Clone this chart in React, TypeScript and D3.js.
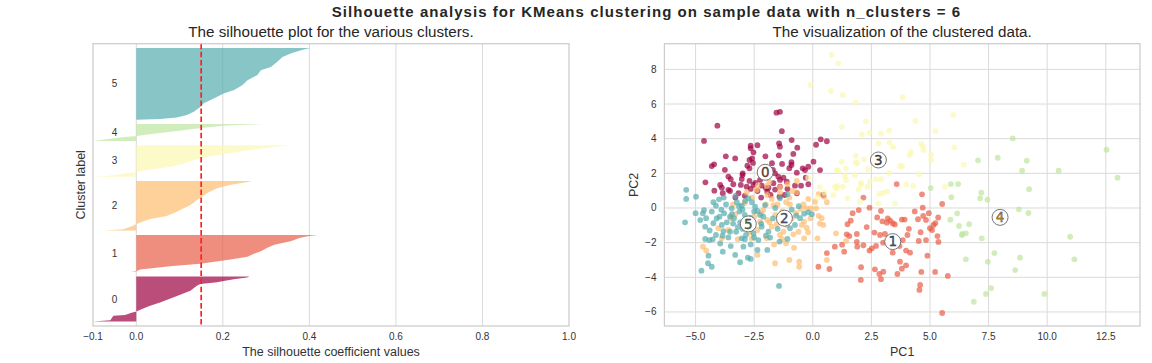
import React, { useEffect, useRef } from 'react';
import * as d3 from 'd3';

// silhouette plot data: [rank inside cluster, silhouette value]
const clusterIds = [0, 1, 2, 3, 4, 5];
const clusterSizes = [102, 84, 112, 71, 38, 162];
const silProfile0 = [[0, -0.1], [3, -0.06], [13, -0.053], [15, -0.026], [20, -0.011], [23, 0], [28, 0.012], [36, 0.032], [43, 0.055], [58, 0.094], [70, 0.125], [81, 0.14], [85, 0.148], [89, 0.187], [92, 0.202], [96, 0.225], [100, 0.256], [102, 0.262]];
const silProfile1 = [[0, -0.012], [2, 0], [6, 0.009], [13.5, 0.078], [19, 0.148], [28.5, 0.218], [34.5, 0.257], [40, 0.268], [47, 0.288], [55, 0.303], [62, 0.319], [70, 0.357], [77, 0.377], [81, 0.396], [84, 0.419]];
const silProfile2 = [[0, -0.075], [3, -0.03], [10, -0.01], [15, 0], [18.5, 0.009], [26, 0.032], [30, 0.055], [33, 0.07], [41, 0.09], [48, 0.105], [55, 0.12], [63, 0.133], [70, 0.14], [74, 0.148], [85, 0.164], [96, 0.187], [104, 0.218], [108, 0.248], [112, 0.268]];
const silProfile3 = [[0, -0.1], [2, -0.062], [7.5, -0.022], [10, 0], [15, 0.023], [22, 0.078], [30, 0.11], [37, 0.133], [45, 0.163], [52, 0.21], [60, 0.257], [67, 0.318], [71, 0.357]];
const silProfile4 = [[0, -0.1], [7.5, -0.038], [11, 0], [16, 0.04], [22, 0.09], [28, 0.14], [33, 0.19], [35, 0.21], [37, 0.27], [38, 0.29]];
const silProfile5 = [[0, 0], [1.5, 0.055], [5, 0.094], [10.5, 0.117], [18, 0.133], [29, 0.148], [37, 0.156], [48, 0.179], [59, 0.202], [67, 0.226], [78, 0.245], [89.5, 0.257], [101, 0.28], [112, 0.288], [119.5, 0.311], [131, 0.326], [142, 0.338], [150, 0.357], [157, 0.381], [162, 0.402]];
const silProfiles = [silProfile0, silProfile1, silProfile2, silProfile3, silProfile4, silProfile5];
const silAverage = 0.15;
const silTicks = [-0.1, 0, 0.2, 0.4, 0.6, 0.8, 1.0];

// clustered data in PCA space, one array per cluster: [PC1, PC2]
const pc0 = [[-4.07, 4.75], [-4.64, 3.87], [-1.32, 4.43], [-0.9, 3.92], [-1.44, 3.73], [-1.4, 3.54], [-0.66, 3.48], [0.34, 3.96], [0.6, 3.85], [0.14, 3.65], [-2.65, 3.59], [-2.65, 3.44], [-2.36, 3.62], [-2.53, 3.21], [-2.02, 2.98], [-3.71, 2.98], [-3.31, 2.86], [-2.59, 2.86], [-2.7, 2.77], [-4.21, 2.52], [-4.31, 2.42], [-2.79, 2.44], [-2.7, 2.29], [-1.45, 3.04], [-0.83, 3.12], [-0.91, 2.64], [-0.91, 2.48], [-1.31, 2.54], [-1.74, 2.58], [-1.61, 2.0], [0.03, 2.67], [-0.19, 2.38], [-0.43, 2.29], [-0.33, 2.19], [-0.68, 2.04], [0.31, 2.19], [-1.47, 1.81], [-2.99, 2.0], [-3.6, 1.81], [-3.5, 1.66], [-3.03, 1.67], [-4.58, 1.48], [-3.95, 1.33], [-3.88, 1.17], [-3.39, 1.37], [-3.07, 1.33], [-2.7, 1.56], [-2.53, 1.33], [-2.25, 1.62], [-1.4, 1.62], [-1.25, 1.75], [-1.11, 1.52], [-0.76, 1.29], [-0.5, 1.29], [-0.19, 1.37], [-2.18, 1.29], [-1.89, 1.17], [-1.4, 1.23], [-1.68, 1.43], [-3.84, 0.85], [-3.53, 0.98], [-3.17, 0.85], [-2.65, 1.1], [-2.36, 0.98], [-1.94, 0.94], [-1.61, 1.06], [-1.42, 0.65], [-1.08, 1.1], [-0.68, 0.85], [-2.82, 1.23], [0.45, 0.75], [-1.55, 5.5], [-1.4, 5.55], [-3.3, 0.6], [-2.9, 0.7], [-2.2, 0.6], [-1.8, 0.75], [-3.6, 1.05], [-2.45, 1.45], [-2.0, 1.15], [-1.2, 0.75], [-3.0, 1.9], [-2.2, 2.1], [-1.7, 2.2], [-1.0, 2.3], [-0.3, 1.75], [-4.2, 1.0], [-3.75, 2.2], [-2.55, 2.6]];
const pc1 = [[3.58, 1.38], [2.16, 0.6], [4.66, 0.79], [5.52, 0.23], [1.96, -0.12], [2.42, 0.02], [2.91, -0.17], [4.69, 0.02], [4.71, -0.46], [4.49, -0.65], [4.83, -0.69], [1.48, -0.94], [1.62, -0.73], [2.97, -0.77], [3.16, -0.85], [3.3, -0.73], [3.41, -0.88], [3.8, -0.67], [3.92, -0.67], [5.0, -1.17], [5.15, -0.98], [5.23, -0.88], [5.09, -1.27], [1.45, -1.52], [1.56, -1.62], [1.88, -1.5], [2.63, -1.42], [2.87, -1.56], [3.08, -1.5], [4.04, -1.56], [3.84, -1.85], [5.32, -1.62], [0.94, -2.23], [1.25, -2.12], [1.34, -2.52], [1.88, -1.96], [1.9, -2.23], [2.16, -2.15], [2.7, -2.19], [2.42, -2.46], [2.52, -2.33], [3.41, -2.58], [3.98, -2.46], [4.15, -2.58], [4.52, -1.9], [4.83, -1.85], [5.36, -1.96], [4.89, -2.75], [3.72, -3.1], [3.98, -3.31], [3.8, -3.5], [3.61, -3.81], [2.65, -3.54], [2.06, -3.42], [2.84, -3.81], [3.01, -3.68], [2.91, -4.11], [2.05, -4.15], [4.63, -3.69], [5.22, -3.69], [5.76, -3.92], [4.58, -4.44], [4.55, -4.73], [5.52, -6.06], [0.24, -3.39], [0.71, -3.52], [0.6, -2.61], [3.2, -0.6], [3.5, -0.95], [2.75, -0.55], [4.1, -1.2], [3.0, -2.0], [1.7, -0.3], [4.35, -0.2], [5.35, -0.55], [4.95, -0.3], [2.3, -1.1], [3.7, -2.2], [4.6, -1.4]];
const pc2 = [[-2.82, 0.9], [-2.39, 1.04], [-1.94, 0.75], [-1.75, 0.52], [-1.68, 0.17], [-2.11, -0.12], [-1.94, -0.69], [-1.85, -0.83], [-1.75, -1.08], [-1.54, -0.94], [-2.25, -0.79], [-2.36, -1.27], [-1.96, -1.75], [-1.4, -1.56], [-1.25, -1.37], [-0.83, -1.52], [-0.61, -1.37], [-0.47, -0.98], [-0.26, -1.14], [-0.37, -0.79], [-0.09, -0.59], [-0.51, -0.06], [-0.26, -0.02], [-0.09, -0.02], [0.14, -0.02], [-0.19, 0.52], [0.1, 0.36], [0.48, 0.65], [0.6, 0.33], [0.38, -0.59], [0.45, -0.98], [-0.68, 0.9], [-0.87, 0.98], [-1.4, 0.9], [-1.14, 0.33], [-0.97, 0.21], [-3.6, -1.27], [-3.5, -0.59], [-3.31, -0.36], [-4.03, -1.17], [-4.69, -2.23], [-4.55, -2.45], [-3.88, -1.75], [-2.6, -1.75], [-1.65, -2.1], [-1.14, -2.04], [-0.37, -1.75], [0.2, -1.75], [-1.61, -3.19], [-1.0, -3.0], [-0.58, -3.1], [-0.58, -3.39], [0.6, -3.0], [-2.36, -2.71], [-1.96, 1.27], [-1.08, 1.37], [-0.68, 1.56], [-1.85, 1.52], [0.25, -0.45], [0.3, -0.9], [0.99, -1.46], [1.42, -1.9], [-1.4, 1.2], [0.25, 0.8], [-2.35, 1.3], [-2.2, -0.3], [-1.6, -0.4], [-1.3, -0.2], [-0.9, -0.6], [-0.7, -0.3], [-2.5, -0.5], [-3.0, -0.9], [-2.7, -1.4], [-1.1, -1.0], [-0.4, 0.2], [-1.5, 0.2], [-3.2, -1.8], [-2.9, 0.3], [-1.0, 0.6], [-0.2, -1.4], [-2.0, 0.2], [-3.4, 0.2], [-2.6, 0.6], [-1.3, -1.8], [-0.8, -2.3]];
const pc3 = [[0.81, 8.83], [1.08, 8.35], [0.78, 6.75], [1.28, 6.52], [1.83, 6.08], [3.84, 6.39], [1.24, 4.67], [2.27, 5.0], [2.1, 4.25], [2.42, 4.35], [2.91, 4.29], [3.26, 4.46], [4.38, 5.02], [5.23, 4.44], [6.0, 5.37], [2.8, 3.73], [3.27, 3.79], [3.43, 3.52], [4.63, 3.71], [4.71, 3.54], [4.72, 3.33], [4.19, 3.23], [4.14, 3.06], [5.05, 3.06], [5.05, 2.77], [6.04, 3.5], [1.83, 3.02], [1.83, 2.64], [1.9, 2.58], [2.18, 2.81], [1.24, 2.67], [1.41, 2.29], [1.08, 2.15], [2.35, 2.25], [3.71, 2.41], [3.81, 2.41], [6.44, 2.5], [3.26, 2.02], [4.54, 1.94], [1.37, 1.85], [1.8, 1.89], [1.42, 1.62], [2.69, 1.66], [2.91, 1.66], [2.05, 1.43], [1.05, 1.27], [1.28, 1.23], [0.88, 0.75], [1.48, 0.56], [1.96, 1.08], [2.07, 1.38], [2.33, 1.23], [2.84, 0.81], [3.01, 0.88], [3.18, 0.94], [2.8, 0.27], [3.51, 0.27], [3.98, 1.35], [4.29, 1.27], [2.02, 0.36], [2.44, 1.52], [5.64, 1.23], [1.02, 1.13], [1.02, 2.19], [0.95, 1.23], [-0.1, 7.1], [-0.2, 1.75], [0.3, 1.2], [0.5, 0.9], [0.2, 0.6]];
const pc4 = [[8.53, 4.02], [12.53, 3.36], [7.05, 2.75], [7.89, 2.9], [9.13, 2.73], [8.93, 2.15], [10.49, 2.15], [13.0, 1.75], [9.23, 1.08], [7.19, 0.88], [7.14, 0.56], [7.45, 0.48], [8.79, -0.08], [9.2, -0.29], [6.67, -0.94], [6.53, -1.46], [6.36, -1.56], [7.21, -1.75], [10.98, -1.66], [6.53, -2.96], [7.75, -2.61], [8.84, -2.87], [7.47, -3.1], [11.16, -2.96], [8.64, -3.58], [7.61, -4.62], [7.39, -4.96], [6.87, -5.41], [9.88, -4.96], [5.03, 1.15], [5.89, 1.38], [6.2, 1.38], [5.91, 0.62], [6.16, -0.31], [5.87, -0.68], [6.24, -1.04], [6.38, -1.5]];
const pc5 = [[-5.4, 0.52], [-4.98, 0.65], [-5.45, -0.83], [-4.64, -0.12], [-4.69, -0.31], [-4.24, 0.33], [-4.13, 0.13], [-4.31, -0.21], [-4.55, -0.59], [-4.59, -1.08], [-4.24, -0.88], [-3.98, -0.5], [-3.78, -0.31], [-3.88, -0.98], [-3.67, -0.83], [-3.53, -0.5], [-3.46, -0.02], [-3.36, -0.59], [-3.24, 0.33], [-3.13, -0.21], [-3.03, 0.13], [-2.89, 0.4], [-2.75, 0.56], [-2.6, 0.33], [-2.46, 0.08], [-2.36, -0.17], [-2.25, -0.4], [-2.99, -1.21], [-2.85, -1.56], [-3.03, -1.75], [-3.27, -1.37], [-3.53, -1.37], [-3.81, -1.33], [-4.13, -1.56], [-4.59, -1.79], [-4.41, -1.85], [-4.27, -1.81], [-3.95, -2.05], [-4.45, -2.75], [-3.84, -2.52], [-2.96, -2.23], [-2.65, -2.1], [-2.32, -1.85], [-2.36, -2.42], [-1.94, -2.42], [-1.82, -1.71], [-2.18, -1.08], [-1.89, -1.37], [-2.53, -1.46], [-1.4, 0.56], [-1.08, 0.79], [-1.18, -0.88], [-0.97, -1.17], [-0.76, -0.98], [-0.54, -0.59], [-0.37, -0.33], [-0.19, -0.25], [-0.04, -0.36], [-0.71, -0.44], [-1.08, -1.79], [-1.42, -1.94], [-2.11, -0.5], [-2.04, 0.17], [-2.67, -0.56], [-3.1, -0.83], [-2.75, -0.98], [-4.47, -3.19], [-4.31, -3.39], [-4.75, -3.62], [-3.31, -2.71], [-3.1, -3.13], [-2.77, -2.87], [-2.65, -2.94], [-1.44, -4.5], [-5.4, 1.05], [-3.7, 0.2], [-3.9, -0.1], [-4.0, 0.5], [-3.4, -0.9], [-3.2, -1.1], [-2.9, -0.4], [-3.6, -1.7], [-4.8, -0.7], [-5.0, -0.3], [-4.4, -1.3], [-3.0, -0.1], [-2.5, -0.2], [-2.2, -0.9], [-1.7, -0.6], [-1.6, 0.0], [-1.3, -0.5], [-2.9, -1.8], [-3.5, -2.2], [-2.5, -1.7], [-3.3, 0.7], [-3.8, 0.6], [-4.1, -0.6], [-2.0, -1.6], [-1.5, -1.2], [-0.6, 0.1], [-0.9, -0.1], [-3.15, 0.1], [-3.45, -0.35], [-2.7, -0.7], [-3.85, -1.6]];
const pcClusters = [pc0, pc1, pc2, pc3, pc4, pc5];
const centers = [[-2.03, 2.06], [3.41, -1.94], [-1.21, -0.59], [2.8, 2.77], [7.99, -0.54], [-2.75, -0.92]];
const centerColors = ['#8a3a2a', '#2a5d80', '#575585', '#404040', '#c4922a', '#4e6b2e'];
const pc1Ticks = [-5, -2.5, 0, 2.5, 5, 7.5, 10, 12.5];
const pc2Ticks = [-6, -4, -2, 0, 2, 4, 6, 8];

const W = 1152;
const H = 363;
const font = '"Liberation Sans", Arial, sans-serif';
const tickColor = '#333333';
const gridColor = '#dadada';
const spineColor = '#cccccc';

const left = { x0: 93, x1: 569, y0: 43.7, y1: 326 };
const right = { x0: 664.4, x1: 1140, y0: 43.7, y1: 326 };

const clusterColor = (i) => d3.interpolateSpectral(i / 6);

const App = () => {
    const svgRef = useRef(null);

    useEffect(() => {
        const svg = d3.select(svgRef.current);
        svg.selectAll('*').remove();

        svg.append('rect').attr('width', W).attr('height', H).attr('fill', '#ffffff');

        svg.append('text')
            .attr('x', 646.5).attr('y', 16.5)
            .attr('text-anchor', 'middle')
            .style('font-family', font).style('font-size', '15px').style('font-weight', 'bold')
            .style('letter-spacing', '1.05px')
            .attr('fill', '#262626')
            .text('Silhouette analysis for KMeans clustering on sample data with n_clusters = 6');

        // ---------- left: silhouette plot ----------
        const xS = d3.scaleLinear().domain([-0.1, 1]).range([left.x0, left.x1]);
        const yS = d3.scaleLinear().domain([0, 639]).range([left.y1, left.y0]);
        const gl = svg.append('g');

        gl.selectAll('.vgrid').data(silTicks.slice(1, -1)).join('line')
            .attr('x1', d => xS(d)).attr('x2', d => xS(d))
            .attr('y1', left.y0).attr('y2', left.y1)
            .attr('stroke', gridColor).attr('stroke-width', 1);

        let yLower = 10;
        clusterIds.forEach(i => {
            const size = clusterSizes[i];
            const base = yLower;
            const area = d3.area()
                .x0(xS(0))
                .x1(d => xS(d[1]))
                .y(d => yS(base + d[0]));
            gl.append('path')
                .attr('d', area(silProfiles[i]))
                .attr('fill', clusterColor(i))
                .attr('fill-opacity', 0.7);
            gl.append('text')
                .attr('x', xS(-0.05)).attr('y', yS(base + size / 2))
                .attr('dy', '0.35em').attr('text-anchor', 'middle')
                .style('font-family', font).style('font-size', '10px')
                .attr('fill', tickColor)
                .text(String(i));
            yLower = base + size + 10;
        });

        gl.append('line')
            .attr('x1', xS(silAverage)).attr('x2', xS(silAverage))
            .attr('y1', left.y0).attr('y2', left.y1)
            .attr('stroke', '#ff2020').attr('stroke-width', 1.7)
            .attr('stroke-dasharray', '5.5 2.6');

        gl.append('rect')
            .attr('x', left.x0).attr('y', left.y0)
            .attr('width', left.x1 - left.x0).attr('height', left.y1 - left.y0)
            .attr('fill', 'none').attr('stroke', spineColor).attr('stroke-width', 1.25);

        gl.selectAll('.xtick').data(silTicks).join('text')
            .attr('x', d => xS(d)).attr('y', 339.5)
            .attr('text-anchor', 'middle')
            .style('font-family', font).style('font-size', '10px')
            .attr('fill', tickColor)
            .text(d => d3.format('.1f')(d));

        gl.append('text')
            .attr('x', (left.x0 + left.x1) / 2).attr('y', 37)
            .attr('text-anchor', 'middle')
            .style('font-family', font).style('font-size', '15.2px')
            .attr('fill', '#262626')
            .text('The silhouette plot for the various clusters.');

        gl.append('text')
            .attr('x', (left.x0 + left.x1) / 2).attr('y', 356)
            .attr('text-anchor', 'middle')
            .style('font-family', font).style('font-size', '12.5px')
            .attr('fill', tickColor)
            .text('The silhouette coefficient values');

        gl.append('text')
            .attr('transform', `translate(84.5, ${(left.y0 + left.y1) / 2}) rotate(-90)`)
            .attr('text-anchor', 'middle')
            .style('font-family', font).style('font-size', '12.5px')
            .attr('fill', tickColor)
            .text('Cluster label');

        // ---------- right: scatter of clustered data ----------
        const px = d3.scaleLinear().domain([-6.33, 13.96]).range([right.x0, right.x1]);
        const py = d3.scaleLinear().domain([-6.81, 9.48]).range([right.y1, right.y0]);
        const gr = svg.append('g');

        gr.selectAll('.vg').data(pc1Ticks).join('line')
            .attr('x1', d => px(d)).attr('x2', d => px(d))
            .attr('y1', right.y0).attr('y2', right.y1)
            .attr('stroke', gridColor).attr('stroke-width', 1);
        gr.selectAll('.hg').data(pc2Ticks).join('line')
            .attr('x1', right.x0).attr('x2', right.x1)
            .attr('y1', d => py(d)).attr('y2', d => py(d))
            .attr('stroke', gridColor).attr('stroke-width', 1);

        clusterIds.forEach(i => {
            gr.append('g').selectAll('circle').data(pcClusters[i]).join('circle')
                .attr('cx', d => px(d[0])).attr('cy', d => py(d[1]))
                .attr('r', 2.9)
                .attr('fill', clusterColor(i))
                .attr('fill-opacity', 0.7);
        });

        gr.append('g').selectAll('circle').data(centers).join('circle')
            .attr('cx', d => px(d[0])).attr('cy', d => py(d[1]))
            .attr('r', 8)
            .attr('fill', '#ffffff')
            .attr('stroke', '#666666').attr('stroke-width', 0.9);

        gr.append('g').selectAll('text').data(centers).join('text')
            .attr('x', d => px(d[0])).attr('y', d => py(d[1]))
            .attr('dy', '0.36em').attr('text-anchor', 'middle')
            .style('font-family', '"DejaVu Sans", sans-serif').style('font-size', '13.5px')
            .attr('fill', (d, i) => centerColors[i])
            .attr('stroke', '#333333').attr('stroke-width', 0.35)
            .text((d, i) => String(i));

        gr.append('rect')
            .attr('x', right.x0).attr('y', right.y0)
            .attr('width', right.x1 - right.x0).attr('height', right.y1 - right.y0)
            .attr('fill', 'none').attr('stroke', spineColor).attr('stroke-width', 1.25);

        gr.selectAll('.xt').data(pc1Ticks).join('text')
            .attr('x', d => px(d)).attr('y', 339.5)
            .attr('text-anchor', 'middle')
            .style('font-family', font).style('font-size', '10px')
            .attr('fill', tickColor)
            .text(d => d3.format('.1f')(d));

        gr.selectAll('.yt').data(pc2Ticks).join('text')
            .attr('x', 656.5).attr('y', d => py(d))
            .attr('dy', '0.35em').attr('text-anchor', 'end')
            .style('font-family', font).style('font-size', '10px')
            .attr('fill', tickColor)
            .text(d => d3.format('d')(d));

        gr.append('text')
            .attr('x', (right.x0 + right.x1) / 2).attr('y', 37)
            .attr('text-anchor', 'middle')
            .style('font-family', font).style('font-size', '15.2px')
            .attr('fill', '#262626')
            .text('The visualization of the clustered data.');

        gr.append('text')
            .attr('x', (right.x0 + right.x1) / 2).attr('y', 356)
            .attr('text-anchor', 'middle')
            .style('font-family', font).style('font-size', '12.5px')
            .attr('fill', tickColor)
            .text('PC1');

        gr.append('text')
            .attr('transform', `translate(637.5, ${(right.y0 + right.y1) / 2}) rotate(-90)`)
            .attr('text-anchor', 'middle')
            .style('font-family', font).style('font-size', '12.5px')
            .attr('fill', tickColor)
            .text('PC2');
    }, []);

    return (
        <div style={{ position: 'fixed', left: 0, top: 0 }}>
            <svg ref={svgRef} width={W} height={H} style={{ display: 'block' }} />
        </div>
    );
};

export default App;
